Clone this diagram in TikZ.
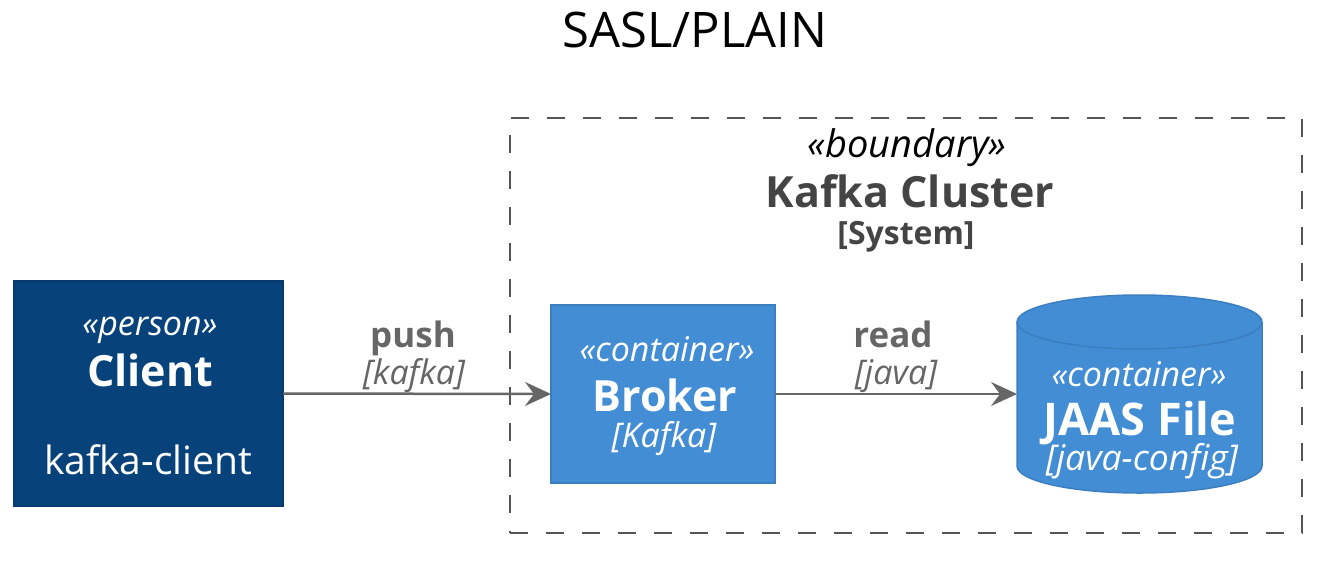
\documentclass[tikz,border=0pt]{standalone}
\usepackage{fontspec}
\setmainfont{Open Sans}
\usetikzlibrary{arrows.meta}
\definecolor{personfill}{HTML}{08427B}
\definecolor{personline}{HTML}{073B6F}
\definecolor{contfill}{HTML}{438DD5}
\definecolor{contline}{HTML}{3C7FC0}
\definecolor{bndline}{HTML}{444444}
\definecolor{bnddash}{HTML}{555555}
\definecolor{arr}{HTML}{666666}
\newcommand{\fs}[1]{\fontsize{#1}{#1}\selectfont}
\tikzset{
  every node/.style={inner sep=0pt, outer sep=0pt},
  txt/.style={anchor=base, align=center},
  stereo/.style={txt, font=\fs{34}\itshape},
  namebig/.style={txt, font=\fs{43}\bfseries},
  personbox/.style={draw=personline, fill=personfill, line width=1.5pt},
  contbox/.style={draw=contline, fill=contfill, line width=1.5pt},
  rel/.style={draw=arr, line width=2.5pt, -{Stealth[length=26pt,width=24pt,inset=9pt]}},
  rellabel/.style={txt, text=arr, font=\fs{35}\bfseries},
  reltech/.style={txt, text=arr, font=\fs{34}\itshape},
}
\begin{document}
\begin{tikzpicture}[x=1pt,y=1pt]
\useasboundingbox (0,0) rectangle (1328,-560);
% title
\node[txt, font=\fs{49}] (title) at (695,-47) {SASL/PLAIN};
% boundary
\node[draw=bnddash, line width=2.5pt, dash pattern=on 18pt off 18pt, minimum width=792, minimum height=415, anchor=north west] (bnd) at (510,-118) {};
\node[txt, font=\fs{38}\itshape] (bst) at (907,-157) {«boundary»};
\node[txt, text=bndline, font=\fs{43}\bfseries] (bname) at (910,-207) {Kafka Cluster};
\node[txt, text=bndline, font=\fs{32}\bfseries] (btype) at (906,-244) {[System]};
% client
\node[personbox, minimum width=269, minimum height=225] (client) at (148.5,-393.5) {};
\node[stereo, text=white] (cst) at (150,-335) {«person»};
\node[namebig, text=white] (cname) at (150,-386) {Client};
\node[txt, text=white, font=\fs{39}] (cdesc) at (148,-474) {kafka-client};
% broker
\node[contbox, minimum width=224, minimum height=178] (broker) at (663,-394) {};
\node[stereo, text=white] (brst) at (667,-361) {«container»};
\node[namebig, text=white] (brname) at (665,-411) {Broker};
\node[txt, text=white, font=\fs{34}\itshape] (brtech) at (664,-447) {[Kafka]};
% JAAS cylinder
\fill[contfill] (1017,-322) -- (1017,-466) arc[start angle=180,end angle=360,x radius=122.5pt,y radius=27pt] -- (1262,-322) arc[start angle=0,end angle=180,x radius=122.5pt,y radius=27pt] -- cycle;
\draw[contline, line width=1.5pt] (1017,-322) -- (1017,-466) arc[start angle=180,end angle=360,x radius=122.5pt,y radius=27pt] -- (1262,-322) arc[start angle=0,end angle=180,x radius=122.5pt,y radius=27pt];
\draw[contline, line width=1.5pt] (1017,-322) arc[start angle=180,end angle=360,x radius=122.5pt,y radius=27pt];
\node[minimum width=245, minimum height=198] (jaas) at (1139.5,-394) {};
\node[stereo, text=white] (jst) at (1139,-386) {«container»};
\node[txt, text=white, font=\fs{45}\bfseries] (jname) at (1140,-435) {JAAS File};
\node[txt, text=white, font=\fs{35.5}\itshape] (jtech) at (1142,-470) {[java-config]};
% relations
\draw[rel] (client.east) -- (broker.west);
\node[rellabel] (l1) at (413,-347) {push};
\node[reltech] (t1) at (414,-384) {[kafka]};
\draw[rel] (broker.east) -- (jaas.west);
\node[rellabel] (l2) at (893,-347) {read};
\node[reltech] (t2) at (896,-384) {[java]};
\end{tikzpicture}
\end{document}
